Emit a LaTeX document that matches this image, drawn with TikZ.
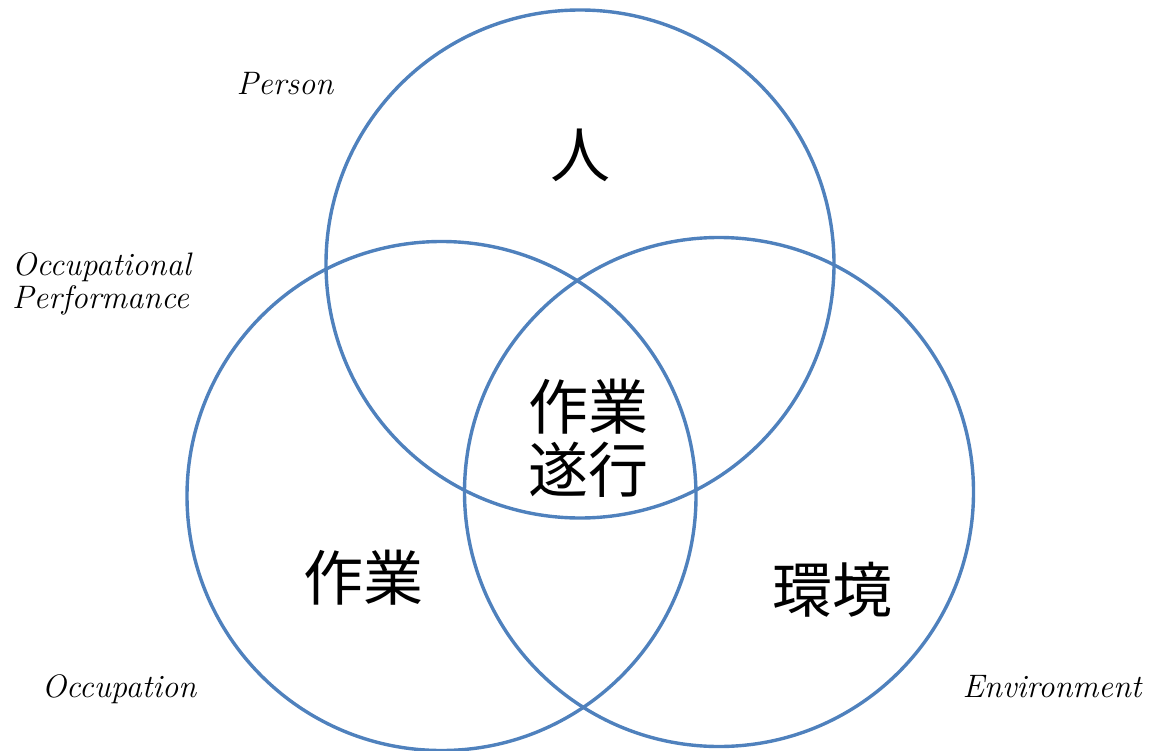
\documentclass[tikz,border=0pt]{standalone}
\usepackage{fontspec}
\newfontfamily\cjk{Noto Sans CJK JP}
\definecolor{vblue}{RGB}{79,129,189}
\begin{document}
\begin{tikzpicture}[x=1pt,y=-1pt,
  ring/.style={draw=vblue,line width=3.4pt},
  lbl/.style={font=\fontsize{32.5}{34}\selectfont\itshape,inner sep=0pt},
  big/.style={font=\fontsize{60}{63}\selectfont\cjk,inner sep=0pt,align=center}]
\useasboundingbox (0,0) rectangle (1155,751);
\draw[ring] (580,264) circle (254);
\draw[ring] (441.5,496) circle (254.5);
\draw[ring] (719,492) circle (254.5);
\node[lbl,anchor=base] (person) at (285,95) {Person};
\node[lbl,anchor=base west] (perf) at (12,275) {Occupational};
\node[lbl,anchor=base west] (perf2) at (12,308) {Performance};
\node[lbl,anchor=base] (occ) at (119,697) {Occupation};
\node[lbl,anchor=base] (env) at (1052,697) {Environment};
\node[big] (hito) at (580,155) {人};
\node[big] (op) at (588,438) {作業\\遂行};
\node[big] (sg) at (363,578) {作業};
\node[big] (kk) at (832,590) {環境};
\end{tikzpicture}
\end{document}
